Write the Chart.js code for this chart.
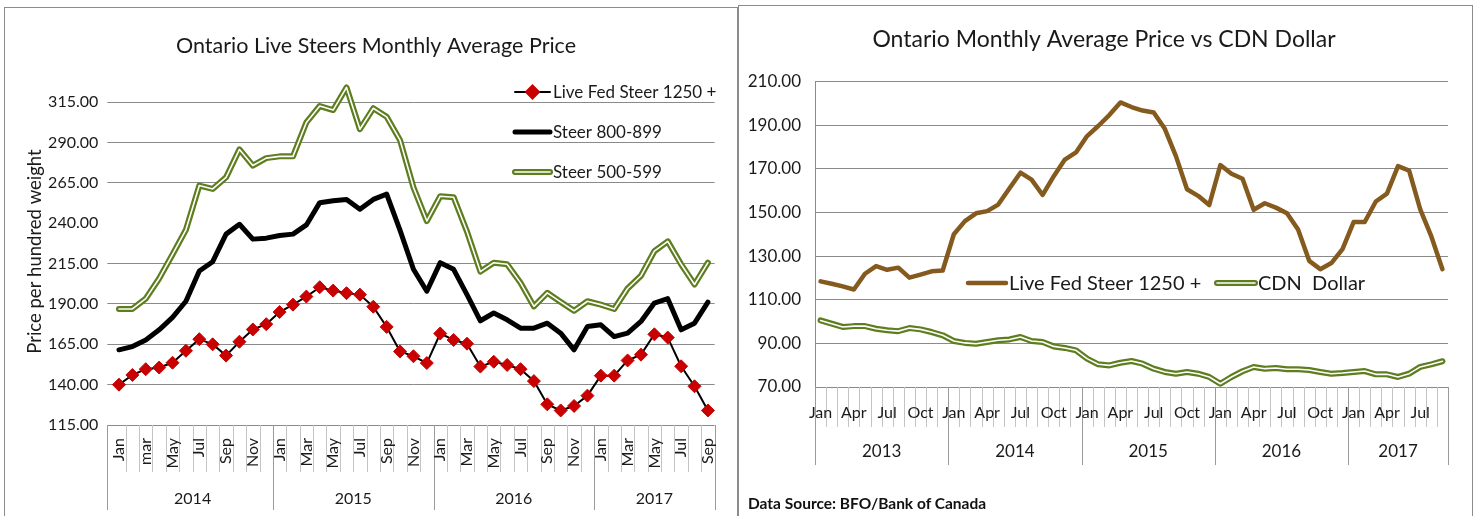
<!DOCTYPE html>
<html>
<head>
<meta charset="utf-8">
<script src="https://cdn.jsdelivr.net/npm/chart.js@4.4.0/dist/chart.umd.min.js"></script>
<style>
  html, body { margin: 0; padding: 0; background: #fff; }
  body { position: relative; width: 1476px; height: 516px; overflow: hidden; }
  .box { position: absolute; border: 1px solid #8c8c8c; }
  #leftBox { left: 4px; top: 7px; width: 732px; height: 520px; }
  #rightBox { left: 738px; top: 5px; width: 733px; height: 520px; }
  canvas { position: absolute; top: 0; }
  #left { left: 0; }
  #right { left: 738px; }
  #source {
    position: absolute; left: 748px; top: 494px; line-height: 20px;
    font: bold 15.5px Lato, "Open Sans", sans-serif; color: #111;
  }
</style>
</head>
<body>
<div class="box" id="leftBox"></div>
<div class="box" id="rightBox"></div>
<canvas id="left" width="737" height="516"></canvas>
<canvas id="right" width="734" height="516"></canvas>
<div id="source">Data Source: BFO/Bank of Canada</div>
<script>
// ---- left chart: Jan 2014 .. Sep 2017 ----
const leftMonths = [
  'Jan', 'Feb', 'mar', 'Apr', 'May', 'Jun', 'Jul', 'Aug', 'Sep', 'Oct', 'Nov', 'Dec',
  'Jan', 'Feb', 'Mar', 'Apr', 'May', 'Jun', 'Jul', 'Aug', 'Sep', 'Oct', 'Nov', 'Dec',
  'Jan', 'Feb', 'Mar', 'Apr', 'May', 'Jun', 'Jul', 'Aug', 'Sep', 'Oct', 'Nov', 'Dec',
  'Jan', 'Feb', 'Mar', 'Apr', 'May', 'Jun', 'Jul', 'Aug', 'Sep'
];
const leftYears = ['2014', '2015', '2016', '2017'];
const leftYearLengths = [12, 12, 12, 9];
const leftTicks = [115, 140, 165, 190, 215, 240, 265, 290, 315];

const liveFed = [
  140, 146, 149.6, 150.6, 153.6, 161, 168.2, 165, 158, 166.6, 174.2, 177.5,
  185, 189.6, 194.6, 200.4, 198.3, 196.7, 195.8, 188.3, 175.8, 160.6, 157.6, 153.4,
  171.7, 167.7, 165.4, 151.2, 154.2, 152.2, 149.6, 142.2, 127.8, 124, 126.8, 133.2,
  145.6, 145.6, 155, 158.6, 171.2, 169.2, 151.4, 139, 124
];
const steer800 = [
  161.6, 163.6, 167.7, 174, 181.7, 191.7, 210.4, 216.2, 233.3, 239.4, 230.2, 230.8,
  232.4, 233.3, 239, 252.8, 254, 254.8, 248.7, 254.8, 258.1, 235.6, 211.5, 197.9,
  215.6, 211.5, 195.8, 179.6, 184.4, 180.2, 175, 175, 178.1, 171.9, 161.6, 176,
  177.1, 169.8, 171.9, 179.2, 190.6, 193.3, 174, 178.1, 191.2
];
const steer500 = [
  186.9, 186.9, 193.3, 205.8, 220.7, 236, 263.4, 261.3, 268.5, 285.8, 275.8, 280.4,
  281.5, 281.5, 302.5, 312.7, 310.2, 324.2, 298.3, 311.3, 306, 291.5, 262.3, 241.4,
  256.8, 256.2, 234.9, 210.1, 215.6, 214.6, 203.1, 188.5, 196.9, 191.3, 185.8, 191.7,
  189.6, 186.9, 199.6, 207.5, 222.7, 228.8, 214.6, 202.1, 215.6
];

// ---- right chart: Jan 2013 .. Sep 2017 ----
const rightMonths = [
  'Jan', 'Feb', 'Mar', 'Apr', 'May', 'Jun', 'Jul', 'Aug', 'Sep', 'Oct', 'Nov', 'Dec',
  'Jan', 'Feb', 'Mar', 'Apr', 'May', 'Jun', 'Jul', 'Aug', 'Sep', 'Oct', 'Nov', 'Dec',
  'Jan', 'Feb', 'Mar', 'Apr', 'May', 'Jun', 'Jul', 'Aug', 'Sep', 'Oct', 'Nov', 'Dec',
  'Jan', 'Feb', 'Mar', 'Apr', 'May', 'Jun', 'Jul', 'Aug', 'Sep', 'Oct', 'Nov', 'Dec',
  'Jan', 'Feb', 'Mar', 'Apr', 'May', 'Jun', 'Jul', 'Aug', 'Sep'
];
const rightYears = ['2013', '2014', '2015', '2016', '2017'];
const rightYearLengths = [12, 12, 12, 12, 9];
const rightTicks = [70, 90, 110, 130, 150, 170, 190, 210];

// same steer series as the left chart, plus the 2013 months
const liveFed2013 = [118.4, 117.3, 116.1, 114.7, 121.9, 125.4, 123.7, 124.7, 120.1, 121.5, 123, 123.4];
const cdnDollar = [
  100.5, 99, 97.5, 97.9, 97.9, 96.7, 96, 95.6, 97, 96.4, 95.2, 93.7,
  91.1, 90.2, 89.8, 90.6, 91.4, 91.8, 92.9, 91.1, 90.6, 88.6, 87.9, 86.8,
  83, 80.4, 79.9, 81.1, 81.9, 80.7, 78.4, 76.9, 76.1, 76.9, 76.1, 74.6,
  71.5, 74.6, 77.2, 79.2, 78.4, 78.7, 78.1, 78.1, 77.8, 76.9, 76.1, 76.4,
  76.9, 77.3, 75.8, 75.8, 74.6, 76.1, 79.2, 80.4, 81.8
];

const FONT = 'Lato, "Open Sans", sans-serif';
const TEXT = '#1a1a1a';
const GRID = '#8a8a8a';
const GREEN = '#5e7d1f';
const BROWN = '#855a1e';
const RED = '#c80000';

// Excel style two level category axis: month row + year row with separators
const groupAxis = {
  id: 'groupAxis',
  afterDraw(chart, args, o) {
    const ctx = chart.ctx;
    const xs = chart.scales.x;
    const n = chart.data.labels.length;
    const top = xs.top;

    const yearEdges = new Set([0]);
    let acc = 0;
    o.spans.forEach((s) => { acc += s; yearEdges.add(acc); });

    ctx.save();
    ctx.lineWidth = 1;
    for (let i = 0; i <= n; i++) {
      let x = xs.getPixelForValue(i - 0.5);
      if (i === 0) x -= o.firstShift;
      x = Math.round(x) + 0.5;
      const isYear = yearEdges.has(i);
      ctx.strokeStyle = isYear ? o.yearLine : o.monthLine;
      ctx.beginPath();
      ctx.moveTo(x, top);
      ctx.lineTo(x, top + (isYear ? o.yearDrop : o.monthDrop));
      ctx.stroke();
    }

    ctx.fillStyle = TEXT;
    ctx.font = o.monthFont;
    ctx.textBaseline = 'middle';
    chart.data.labels.forEach((lab, i) => {
      if (i % o.every) return;
      const x = xs.getPixelForValue(i);
      if (o.rotate) {
        ctx.save();
        ctx.translate(x, top + o.monthY);
        ctx.rotate(-Math.PI / 2);
        ctx.textAlign = 'right';
        ctx.fillText(lab, 0, 0);
        ctx.restore();
      } else {
        ctx.textAlign = 'center';
        ctx.fillText(lab, x, top + o.monthY);
      }
    });

    ctx.font = o.yearFont;
    ctx.textAlign = 'center';
    let s = 0;
    o.years.forEach((yr, k) => {
      const e = s + o.spans[k];
      const cx = (xs.getPixelForValue(s - 0.5) + xs.getPixelForValue(e - 0.5)) / 2;
      ctx.fillText(yr, cx, top + o.yearY);
      s = e;
    });
    ctx.restore();
  }
};

// title + hand placed legend (double lines need custom samples)
const chartText = {
  id: 'chartText',
  afterDraw(chart, args, o) {
    const ctx = chart.ctx;
    ctx.save();
    ctx.fillStyle = TEXT;
    ctx.textBaseline = 'middle';
    ctx.textAlign = 'center';
    ctx.font = o.titleFont;
    ctx.fillText(o.title, o.titleX, o.titleY);

    ctx.font = o.legendFont;
    ctx.textAlign = 'left';
    ctx.lineCap = 'round';
    o.legend.forEach((it) => {
      const ds = chart.data.datasets[it.ds];
      const x1 = it.x + it.w;
      ctx.strokeStyle = ds.borderColor;
      ctx.lineWidth = ds.borderWidth;
      ctx.beginPath();
      ctx.moveTo(it.x, it.y);
      ctx.lineTo(x1, it.y);
      ctx.stroke();
      if (it.inner !== undefined) {
        const inner = chart.data.datasets[it.inner];
        ctx.strokeStyle = inner.borderColor;
        ctx.lineWidth = inner.borderWidth;
        ctx.beginPath();
        ctx.moveTo(it.x, it.y);
        ctx.lineTo(x1, it.y);
        ctx.stroke();
      }
      if (ds.pointRadius) {
        ctx.fillStyle = ds.pointBackgroundColor;
        ctx.strokeStyle = ds.pointBorderColor;
        Chart.helpers.drawPoint(ctx, {
          pointStyle: ds.pointStyle, radius: ds.pointRadius, rotation: 0, borderWidth: ds.pointBorderWidth
        }, (it.x + x1) / 2, it.y);
      }
      ctx.fillStyle = TEXT;
      ctx.fillText(ds.label, x1 + 3, it.y + 1);
    });
    ctx.restore();
  }
};

const yLabel = (v) => v.toFixed(2);

new Chart(document.getElementById('left'), {
  type: 'line',
  data: {
    labels: leftMonths,
    datasets: [
      {
        label: 'Live Fed Steer 1250 +', data: liveFed, borderColor: '#000', borderWidth: 2,
        pointStyle: 'rectRot', pointRadius: 6.5, pointBackgroundColor: RED,
        pointBorderColor: RED, pointBorderWidth: 1
      },
      { label: 'Steer 800-899', data: steer800, borderColor: '#000', borderWidth: 5, pointRadius: 0 },
      { label: 'Steer 500-599', data: steer500, borderColor: '#fff', borderWidth: 1.6, pointRadius: 0 },
      { label: 'Steer 500-599', data: steer500, borderColor: GREEN, borderWidth: 6, pointRadius: 0 }
    ]
  },
  options: {
    responsive: false,
    animation: false,
    events: [],
    layout: { padding: { left: 0, right: 22.4, top: 78.1, bottom: 0 } },
    elements: { line: { tension: 0, borderJoinStyle: 'round', borderCapStyle: 'round' } },
    plugins: {
      legend: { display: false },
      tooltip: { enabled: false },
      chartText: {
        title: 'Ontario Live Steers Monthly Average Price',
        titleFont: '21.5px ' + FONT, titleX: 376, titleY: 46,
        legendFont: '17px ' + FONT,
        legend: [
          { ds: 0, x: 515, w: 35, y: 92 },
          { ds: 1, x: 515, w: 35, y: 132 },
          { ds: 3, inner: 2, x: 515, w: 35, y: 172 }
        ]
      },
      groupAxis: {
        spans: leftYearLengths, years: leftYears, every: 2, rotate: true,
        monthFont: '16px ' + FONT, yearFont: '16px ' + FONT,
        monthY: 13, yearY: 74, monthDrop: 47, yearDrop: 85, firstShift: 5,
        monthLine: '#c4c4c4', yearLine: '#9a9a9a'
      }
    },
    scales: {
      x: {
        offset: true,
        ticks: { display: false },
        grid: { display: false },
        border: { display: false },
        afterFit: (s) => { s.height = 91; }
      },
      y: {
        min: 115,
        max: 330,
        afterBuildTicks: (s) => { s.ticks = leftTicks.map((v) => ({ value: v })); },
        afterFit: (s) => { s.width = 112.3; },
        ticks: { padding: 9, color: TEXT, font: { family: FONT, size: 16 }, callback: yLabel },
        grid: {
          color: (c) => (c.tick && c.tick.value === 240 ? 'rgba(0,0,0,0)' : GRID),
          tickLength: 5
        },
        border: { display: false },
        title: {
          display: true, text: 'Price per hundred weight', color: TEXT,
          font: { family: FONT, size: 18.5 }, padding: { top: 24, bottom: 0 }
        }
      }
    }
  },
  plugins: [groupAxis, chartText]
});

new Chart(document.getElementById('right'), {
  type: 'line',
  data: {
    labels: rightMonths,
    datasets: [
      { label: 'Live Fed Steer 1250 +', data: liveFed2013.concat(liveFed), borderColor: BROWN, borderWidth: 4.5, pointRadius: 0 },
      { label: 'CDN  Dollar', data: cdnDollar, borderColor: '#fff', borderWidth: 1.6, pointRadius: 0 },
      { label: 'CDN  Dollar', data: cdnDollar, borderColor: GREEN, borderWidth: 6, pointRadius: 0 }
    ]
  },
  options: {
    responsive: false,
    animation: false,
    events: [],
    layout: { padding: { left: 0, right: 24, top: 81.5, bottom: 0 } },
    elements: { line: { tension: 0, borderJoinStyle: 'round', borderCapStyle: 'round' } },
    plugins: {
      legend: { display: false },
      tooltip: { enabled: false },
      chartText: {
        title: 'Ontario Monthly Average Price vs CDN Dollar',
        titleFont: '23px ' + FONT, titleX: 366, titleY: 40,
        legendFont: '20px ' + FONT,
        legend: [
          { ds: 0, x: 230, w: 38, y: 283 },
          { ds: 2, inner: 1, x: 479, w: 38, y: 283 }
        ]
      },
      groupAxis: {
        spans: rightYearLengths, years: rightYears, every: 3, rotate: false,
        monthFont: '16px ' + FONT, yearFont: '17px ' + FONT,
        monthY: 26, yearY: 65, monthDrop: 40, yearDrop: 78, firstShift: 0,
        monthLine: '#c4c4c4', yearLine: '#9a9a9a'
      }
    },
    scales: {
      x: {
        offset: true,
        ticks: { display: false },
        grid: { display: false },
        border: { display: false },
        afterFit: (s) => { s.height = 129; }
      },
      y: {
        min: 70,
        max: 210,
        afterBuildTicks: (s) => { s.ticks = rightTicks.map((v) => ({ value: v })); },
        afterFit: (s) => { s.width = 77; },
        ticks: { padding: 14, color: TEXT, font: { family: FONT, size: 17 }, callback: yLabel },
        grid: { color: GRID, drawTicks: false },
        border: { display: true, color: GRID }
      }
    }
  },
  plugins: [groupAxis, chartText]
});
</script>
</body>
</html>
